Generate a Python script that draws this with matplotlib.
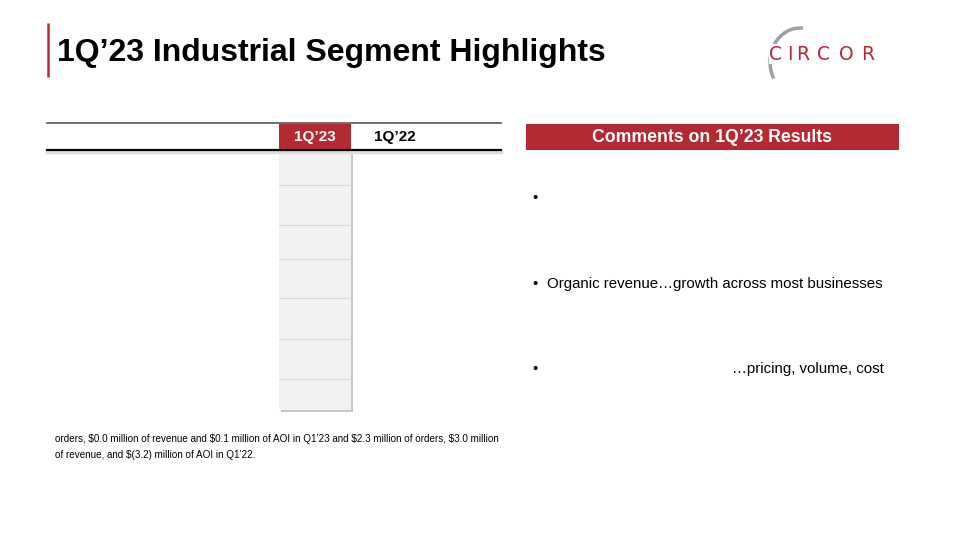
import matplotlib.pyplot as plt
from matplotlib.patches import Rectangle, Arc

plt.rcParams['font.family'] = ['Liberation Sans', 'DejaVu Sans']

# Slide text
title = "1Q’23 Industrial Segment Highlights"
col_headers = ["1Q’23", "1Q’22"]
comments_title = "Comments on 1Q’23 Results"
bullets = ["", "Organic revenue…growth across most businesses", "…pricing, volume, cost"]
footnote = [r"orders, \$0.0 million of revenue and \$0.1 million of AOI in Q1’23 and \$2.3 million of orders, \$3.0 million",
            r"of revenue, and \$(3.2) million of AOI in Q1’22."]
logo = "CIRCOR"

RED = '#b52a32'

fig = plt.figure(figsize=(9.6, 5.4), dpi=100)
ax = fig.add_axes([0, 0, 1, 1])
ax.set_xlim(0, 960)
ax.set_ylim(540, 0)
ax.axis('off')

# Title with red accent bar
ax.plot([48, 48], [23, 77], color=RED, lw=1.8, solid_capstyle='butt')
ax.text(57, 60.5, title, fontsize=23, fontweight='bold', va='baseline', ha='left', color='black')

# Logo
ax.add_patch(Arc((800, 62), 60, 68, theta1=148, theta2=275, color='#a0a0a0', lw=2.5))
logo_x = [776, 789.5, 803, 824, 846, 868]
for ch, lx in zip(logo, logo_x):
    ax.text(lx, 59.5, ch, fontsize=13.5, family='DejaVu Sans', color=RED, ha='center', va='baseline',
            bbox=dict(facecolor='white', edgecolor='none', pad=0.5) if lx < 780 else None)

# Table header
ax.plot([47, 501], [123, 123], color='#555555', lw=1.2)
ax.plot([47, 501], [152, 152], color='#dddddd', lw=2.5)
ax.add_patch(Rectangle((279, 124), 72, 26, facecolor=RED, edgecolor='none'))
ax.plot([47, 501], [150, 150], color='black', lw=1.6)
ax.text(315, 137.5, col_headers[0], fontsize=11, fontweight='bold', color='white', ha='center', va='center')
ax.text(395, 137.5, col_headers[1], fontsize=11, fontweight='bold', color='black', ha='center', va='center')

# Highlighted current-quarter column
ax.add_patch(Rectangle((281, 153), 72, 259, facecolor='#c8c8c8', edgecolor='none'))
ax.add_patch(Rectangle((279, 151), 72, 259, facecolor='#f2f2f2', edgecolor='none'))
row_lines = [185, 225, 259, 298, 339, 379]
for ry in row_lines:
    ax.plot([279, 351], [ry, ry], color='#d9d9d9', lw=0.8)

# Footnote
for i, line in enumerate(footnote):
    ax.text(55, 439 + i * 15.5, line, fontsize=7.15, color='black', ha='left', va='center')

# Comments panel
ax.add_patch(Rectangle((526, 124), 373, 26, facecolor=RED, edgecolor='none'))
ax.text(712, 138, comments_title, fontsize=12.7, fontweight='bold', color='white', ha='center', va='center')
bullet_base = [202, 288, 373]
for by, txt in zip(bullet_base, bullets):
    ax.text(535, by, "•", fontsize=10.5, ha='center', va='baseline')
    if txt.startswith("…"):
        ax.text(884, by, txt, fontsize=10.85, ha='right', va='baseline')
    elif txt:
        ax.text(547, by, txt, fontsize=10.85, ha='left', va='baseline')

fig.savefig('out.png', dpi=100)
